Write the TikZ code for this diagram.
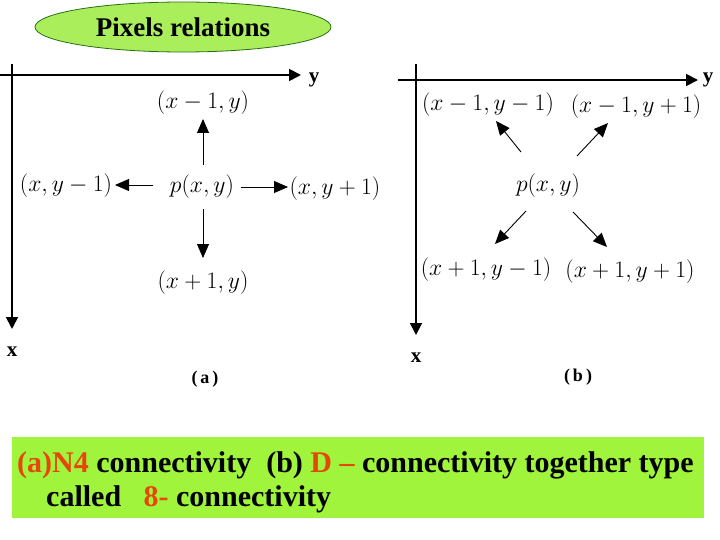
\documentclass[tikz,border=0pt]{standalone}
\usepackage{fontspec}
\usepackage{graphicx}
\setmainfont{Liberation Serif}
\usetikzlibrary{arrows.meta,shapes.geometric}
\definecolor{ellfill}{RGB}{170,238,92}
\definecolor{ellline}{RGB}{40,110,20}
\definecolor{boxfill}{RGB}{160,244,60}
\definecolor{orng}{RGB}{230,70,10}
\newcommand{\pxmath}[1]{\scalebox{0.95}{$#1$}}
\begin{document}
\begin{tikzpicture}[x=1pt,y=-1pt,
  axis/.style={line width=1.8pt,-{Triangle[length=12pt,width=12pt]}},
  conn/.style={line width=0.9pt,-{Triangle[length=14pt,width=12pt]}},
  coord/.style={inner sep=1pt,font=\fontsize{24}{28}\selectfont},
  axlbl/.style={font=\bfseries\fontsize{21}{24}\selectfont},
  capfont/.style={font=\bfseries\fontsize{18}{20}\selectfont}]
\useasboundingbox (0,0) rectangle (720,540);
% title
\node[ellipse,draw=ellline,fill=ellfill,line width=0.8pt,minimum width=296pt,minimum height=50pt,inner sep=0pt,font=\bfseries\fontsize{27}{30}\selectfont] (title) at (183,27) {Pixels relations};
% left axes
\coordinate (ay0) at (0,75);
\coordinate (ay1) at (301,75);
\coordinate (ax0) at (12,64);
\coordinate (ax1) at (12,329);
\draw[axis] (ay0) -- (ay1);
\draw[axis] (ax0) -- (ax1);
\node[axlbl] (ly) at (314,80) {y};
\node[axlbl] (lx) at (12,352) {x};
% left nodes
\node[coord] (pa) at (202,187) {\pxmath{p(x,y)}};
\node[coord] (ua) at (203,103) {\pxmath{(x-1,y)}};
\node[coord] (da) at (203,283) {\pxmath{(x+1,y)}};
\node[coord] (la) at (66,186) {\pxmath{(x,y-1)}};
\node[coord] (ra) at (335,189) {\pxmath{(x,y+1)}};
\coordinate (pau) at (203,165);
\coordinate (pad) at (203,209);
\coordinate (pal) at (153,185);
\coordinate (par) at (241,187);
\coordinate (uae) at (203,119);
\coordinate (dae) at (203,258);
\coordinate (lae) at (115,185);
\coordinate (rae) at (288,187);
\draw[conn] (pau) -- (uae);
\draw[conn] (pad) -- (dae);
\draw[conn] (pal) -- (lae);
\draw[conn] (par) -- (rae);
\node[capfont] (capa) at (205,379) {(\,a\,)};
% right axes
\coordinate (by0) at (398,80);
\coordinate (by1) at (698,80);
\coordinate (bx0) at (416,64);
\coordinate (bx1) at (416,335);
\draw[axis] (by0) -- (by1);
\draw[axis] (bx0) -- (bx1);
\node[axlbl] (ry) at (708,80) {y};
\node[axlbl] (rx) at (416,358) {x};
% right nodes
\node[coord] (pb) at (548,186) {\pxmath{p(x,y)}};
\node[coord] (nw) at (488,105) {\pxmath{(x-1,y-1)}};
\node[coord] (ne) at (636,107) {\pxmath{(x-1,y+1)}};
\node[coord] (sw) at (486,270) {\pxmath{(x+1,y-1)}};
\node[coord] (se) at (630,272) {\pxmath{(x+1,y+1)}};
\coordinate (pbnw) at (521,152);
\coordinate (pbne) at (577,156);
\coordinate (pbsw) at (526,211);
\coordinate (pbse) at (573,212);
\coordinate (nwe) at (496,121);
\coordinate (nee) at (608,123);
\coordinate (swe) at (495,244);
\coordinate (see) at (607,247);
\draw[conn] (pbnw) -- (nwe);
\draw[conn] (pbne) -- (nee);
\draw[conn] (pbsw) -- (swe);
\draw[conn] (pbse) -- (see);
\node[capfont] (capb) at (578,377) {(\,b\,)};
% bottom box
\node[fill=boxfill,minimum width=692pt,minimum height=81pt,inner sep=0pt] (box) at (358,477.5) {};
\node[anchor=base west,inner sep=0pt,font=\bfseries\fontsize{30}{34}\selectfont] (l1) at (17,472) {\textcolor{orng}{(a)N4} connectivity\ \ (b) \textcolor{orng}{D --} connectivity together type};
\node[anchor=base west,inner sep=0pt,font=\bfseries\fontsize{30}{34}\selectfont] (l2) at (46,506) {called\ \ \ \textcolor{orng}{8-} connectivity};
\end{tikzpicture}
\end{document}
